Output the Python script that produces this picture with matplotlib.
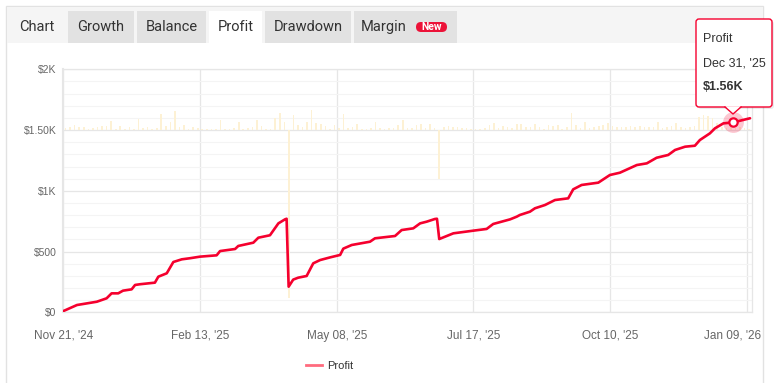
import matplotlib.pyplot as plt
import matplotlib.transforms as mtransforms
from matplotlib.patches import Rectangle, FancyBboxPatch, Polygon
from matplotlib.lines import Line2D

# cumulative profit, x = trading-day index, y = dollars
days = [0, 6, 8.6, 14.7, 19, 21.2, 24.1, 26.2, 30, 31.5,
        33.7, 40.2, 41.7, 45.4, 48.3, 52, 55.6, 60, 67.3, 68.8,
        75.4, 76.8, 83.4, 85.6, 90.7, 94.4, 97.3, 98, 98.9, 100.9,
        103.1, 106.8, 109.7, 112.7, 117.1, 121.5, 122.9, 126.6, 134.6, 136.8,
        145.6, 148.5, 153.6, 156.6, 159.5, 163.1, 164, 165, 171.2, 180,
        185.8, 188.7, 196.1, 199, 200.4, 204.8, 207, 211.4, 215.8, 221.6,
        223.8, 227.5, 234.8, 239.9, 244.3, 251.7, 256.1, 260.4, 265.5, 268.5,
        272.9, 277.2, 279.4, 283.8, 286, 289.7, 294, 301.4]
profit = [10, 60, 68, 87, 115, 156, 156, 178, 189, 225,
          231, 244, 293, 321, 414, 436, 445, 458, 469, 504,
          521, 546, 573, 614, 634, 732, 765, 770, 211, 269,
          285, 299, 403, 430, 452, 472, 524, 554, 581, 609,
          628, 677, 691, 732, 746, 768, 770, 603, 650, 672,
          686, 727, 765, 787, 801, 828, 856, 883, 924, 938,
          1012, 1048, 1067, 1130, 1149, 1212, 1226, 1272, 1295, 1336,
          1363, 1371, 1418, 1473, 1514, 1555, 1563, 1597]

# daily result bars (drawn on the $1.50K baseline), one per 2 days
daily = [14, 27, 41, 27, 22, 8, 14, 22, 33, 33,
         74, 8, 33, 8, 22, 8, 90, 14, 22, 8,
         14, 131, 33, 63, 156, 22, 41, 8, 22, 14,
         5, 8, 8, 8, 82, 8, 8, 14, 68, 5,
         14, 22, 82, 33, 8, 8, 96, 137, 63, -1380,
         123, 41, 27, 63, 164, 60, 49, 33, 8, 41,
         14, 131, 14, 27, 49, 8, 5, 14, 68, 14,
         5, 14, 14, 41, 82, 14, 14, 41, 49, 14,
         49, 14, -405, 22, 33, 22, 22, 14, 14, 8,
         5, 8, 14, 41, 55, 14, 33, 22, 14, 49,
         49, 22, 27, 49, 22, 8, 41, 33, 41, 8,
         22, 137, 41, 14, 63, 14, 22, 33, 41, 55,
         33, 27, 22, 27, 33, 22, 33, 22, 22, 27,
         68, 14, 22, 33, 55, 27, 14, 27, 33, 110,
         123, 115, 96, 55, 22, 14, 22, 14, 27, 14,
         8]
bar_days = [1 + 2 * i for i in range(len(daily))]

tick_days = [0, 60, 120, 180, 240, 300]
tick_labels = ["Nov 21, '24", "Feb 13, '25", "May 08, '25",
               "Jul 17, '25", "Oct 10, '25", "Jan 09, '26"]
y_ticks = [0, 500, 1000, 1500, 2000]
y_labels = ['$0', '$500', '$1K', '$1.50K', '$2K']

tabs = ['Chart', 'Growth', 'Balance', 'Profit', 'Drawdown', 'Margin']
tab_x = [(8, 66), (68, 134), (137, 206), (209, 262), (265, 351), (354, 457)]

hover_day, hover_val = 294, 1563

RED = '#f5002e'
W, H = 776, 383
plt.rcParams['font.family'] = ['Liberation Sans', 'DejaVu Sans']
fig = plt.figure(figsize=(W / 100, H / 100), dpi=100)


def px(x, y):
    return x, H - y


def add_patch(p, z):
    p.set_zorder(z)
    fig.patches.append(p)


# card and tab strip (behind the axes)
add_patch(Rectangle(px(6, 390), 757, 384, transform=None,
                    facecolor='white', edgecolor='#e2e2e2', lw=1), -10)
add_patch(Rectangle(px(6.5, 43), 756, 36.5, transform=None,
                    facecolor='#f5f5f5', edgecolor='none'), -9)
for name, (x0, x1) in zip(tabs, tab_x):
    if name == 'Chart':
        col = None
    elif name == 'Profit':
        col = 'white'
    else:
        col = '#e2e2e2'
    if col:
        add_patch(Rectangle(px(x0, 43), x1 - x0, 32, transform=None,
                            facecolor=col, edgecolor='none'), -8)
    tx = (x0 + x1) / 2 if name != 'Margin' else x0 + 30
    fig.text(tx / W, 1 - 27 / H, name, ha='center', va='center',
             fontsize=10.5, color='#333333', family='Roboto')
add_patch(FancyBboxPatch(px(416, 32), 31, 10, transform=None,
                         boxstyle='round,pad=0,rounding_size=5',
                         facecolor='#ec1238', edgecolor='none'), -7)
fig.text(431.5 / W, 1 - 27 / H, 'New', ha='center', va='center',
         fontsize=7.5, color='white', weight='bold', family='Roboto')

ax = fig.add_axes([63.3 / W, (H - 312.3) / H, 689 / W, 243 / H])
ax.set_facecolor('white')
ax.bar(bar_days, daily, bottom=1500, width=0.7, color='#fdf1d4', zorder=2)
ax.plot(days, profit, color=RED, lw=1.9, solid_joinstyle='round',
        solid_capstyle='round', zorder=4)
ax.plot([hover_day], [hover_val], 'o', ms=15, color=RED, alpha=0.22,
        mec='none', zorder=5)
ax.plot([hover_day], [hover_val], 'o', ms=6, mfc='white', mec=RED,
        mew=1.6, zorder=6)

ax.set_xlim(0, 302.4)
ax.set_ylim(0, 2000)
ax.set_xticks(tick_days)
ax.set_xticklabels(tick_labels)
ax.set_yticks(y_ticks)
ax.set_yticklabels(y_labels)
ax.set_yticks(range(0, 2001, 100), minor=True)
ax.tick_params(axis='y', length=0, pad=5, labelsize=7.5, colors='#666666')
ax.tick_params(axis='x', length=0, pad=12.5, labelsize=8.5, colors='#666666')
ax.tick_params(which='minor', length=0)
ax.grid(which='major', color='#e6e6e6', lw=0.9, zorder=0)
ax.grid(which='minor', axis='y', color='#f4f4f4', lw=0.8, zorder=0)
ax.set_axisbelow(True)
for s in ax.spines.values():
    s.set_color('#e6e6e6')
    s.set_linewidth(0.9)
ax.spines['left'].set_linewidth(1.5)

# last date label is pulled inside the card, like the original
last = ax.get_xticklabels()[-1]
last.set_transform(last.get_transform() +
                   mtransforms.ScaledTranslation(-14 / 100, 0,
                                                 fig.dpi_scale_trans))

# legend
leg = fig.legend(handles=[Line2D([], [], color='#ff6b7e', lw=2)],
                 labels=['Profit'], loc='center',
                 bbox_to_anchor=(330 / W, 1 - 366 / H), frameon=False,
                 fontsize=8, handlelength=1.4, handletextpad=0.5)
for t in leg.get_texts():
    t.set_color('#333333')

# tooltip (on top)
add_patch(FancyBboxPatch(px(698, 109), 76, 88, transform=None,
                         boxstyle='round,pad=0,rounding_size=3',
                         facecolor='#000000', alpha=0.08,
                         edgecolor='none'), 10)
add_patch(FancyBboxPatch(px(696, 107), 76, 88, transform=None,
                         boxstyle='round,pad=0,rounding_size=3',
                         facecolor='white', edgecolor=RED, lw=1), 11)
add_patch(Polygon([px(725, 106.2), px(733, 114), px(741, 106.2)],
                  transform=None, facecolor='white', edgecolor='none'), 12)
tip = Line2D([725, 733, 741], [H - 107, H - 114, H - 107],
             transform=None, color=RED, lw=1, zorder=13)
fig.lines.append(tip)
for ty, s, w in [(39, 'Profit', 'normal'), (63, "Dec 31, '25", 'normal'),
                 (87, '$1.56K', 'bold')]:
    fig.text(703 / W, 1 - ty / H, s, ha='left', va='center', fontsize=9,
             color='#333333', weight=w, zorder=14)

fig.savefig('out.png', dpi=100)
